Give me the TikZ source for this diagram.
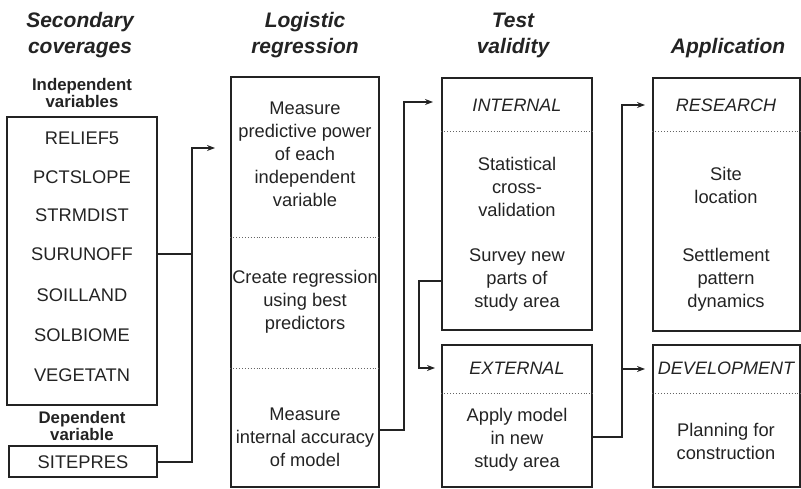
\documentclass[tikz,border=0pt]{standalone}
\usepackage{fontspec}
\setmainfont{Liberation Sans}
\usetikzlibrary{arrows.meta,positioning}
\definecolor{inkgray}{RGB}{35,35,35}

\begin{document}
\begin{tikzpicture}[x=1pt,y=-1pt,>={Stealth[length=8pt,width=6pt]},
  font=\fontsize{18.3}{23}\selectfont,text=inkgray]
\tikzset{frame/.style={draw=inkgray,line width=1.2pt,inner sep=0pt},
  txt/.style={align=center,inner sep=0pt},
  itxt/.style={txt,font=\fontsize{18}{23}\selectfont\itshape},
  head/.style={align=center,inner sep=0pt,font=\fontsize{21}{26}\selectfont\bfseries\itshape},
  subhead/.style={align=center,inner sep=0pt,font=\fontsize{16.8}{15}\selectfont\bfseries},
  sep/.style={draw=inkgray!70,dotted,line width=0.9pt},
  link/.style={draw=inkgray,line width=1.3pt}}
\useasboundingbox (0,0) rectangle (801,489);
% headings
\node[head] (hsec) at (80,35) {Secondary\\coverages};
\node[head] (hlog) at (305,35) {Logistic\\regression};
\node[head] (htest) at (513,35) {Test\\validity};
\node[head] (happ) at (728,48) {Application};
% secondary coverages
\node[subhead] (hind) at (82,93) {Independent\\variables};
\node[frame,minimum width=150pt,minimum height=288pt] (ind) at (82,261) {};
\node[txt] (rel) at (82,138) {RELIEF5};
\node[txt] (pct) at (82,177) {PCTSLOPE};
\node[txt] (str) at (82,215) {STRMDIST};
\node[txt] (sur) at (82,254) {SURUNOFF};
\node[txt] (soi) at (82,295) {SOILLAND};
\node[txt] (sol) at (82,335) {SOLBIOME};
\node[txt] (veg) at (82,375) {VEGETATN};
\node[subhead] (hdep) at (82,426) {Dependent\\variable};
\node[frame,minimum width=148pt,minimum height=31pt] (dep) at (83,461.5) {};
\node[txt] (site) at (83,462) {SITEPRES};
% logistic regression
\node[frame,minimum width=148pt,minimum height=410pt] (lr) at (305,282) {};
\node[txt] (pow) at (305,154) {Measure\\predictive power\\of each\\independent\\variable};
\draw[sep] (lr.west |- 0,237) -- (lr.east |- 0,237);
\node[txt] (cre) at (305,302) {Create regression\\using best\\predictors};
\draw[sep] (lr.west |- 0,368) -- (lr.east |- 0,368);
\node[txt] (acc) at (305,437) {Measure\\internal accuracy\\of model};
% test validity
\node[frame,minimum width=150pt,minimum height=252pt] (int) at (517,204) {};
\node[itxt] (intl) at (517,105) {INTERNAL};
\draw[sep] (int.west |- 0,131) -- (int.east |- 0,131);
\node[txt] (stat) at (517,187) {Statistical\\cross-\\validation};
\node[txt] (surv) at (517,280) {Survey new\\parts of\\study area};
\node[frame,minimum width=150pt,minimum height=142pt] (ext) at (517,416) {};
\node[itxt] (extl) at (517,368) {EXTERNAL};
\draw[sep] (ext.west |- 0,393) -- (ext.east |- 0,393);
\node[txt] (appl) at (517,440) {Apply model\\in new\\study area};
% application
\node[frame,minimum width=147pt,minimum height=253pt] (res) at (726.5,204.5) {};
\node[itxt] (resl) at (726,105) {RESEARCH};
\draw[sep] (res.west |- 0,131) -- (res.east |- 0,131);
\node[txt] (loc) at (726,185) {Site\\location};
\node[txt] (sett) at (726,280) {Settlement\\pattern\\dynamics};
\node[frame,minimum width=147pt,minimum height=142pt] (dev) at (726.5,416) {};
\node[itxt] (devl) at (726,368) {DEVELOPMENT};
\draw[sep] (dev.west |- 0,393) -- (dev.east |- 0,393);
\node[txt] (plan) at (726,441) {Planning for\\construction};
% connectors
\coordinate (j1) at (192,148);
\coordinate (lrin) at (215,148);
\draw[link] (ind.east |- sur) -- (j1 |- sur);
\draw[link,->] (dep.east |- site) -| (j1) -- (lrin);
\coordinate (j2) at (404,102);
\coordinate (intin) at (433,102);
\draw[link,->] (lr.east |- 0,430) -| (j2) -- (intin);
\coordinate (j3) at (419,281);
\coordinate (extin) at (435,368);
\draw[link,->] (int.west |- j3) -- (j3) |- (extin);
\coordinate (j4) at (622,437);
\coordinate (resin) at (645,105);
\coordinate (devin) at (645,369);
\draw[link,->] (ext.east |- j4) -- (j4) |- (resin);
\draw[link,->] (j4 |- devin) -- (devin);
\end{tikzpicture}
\end{document}
